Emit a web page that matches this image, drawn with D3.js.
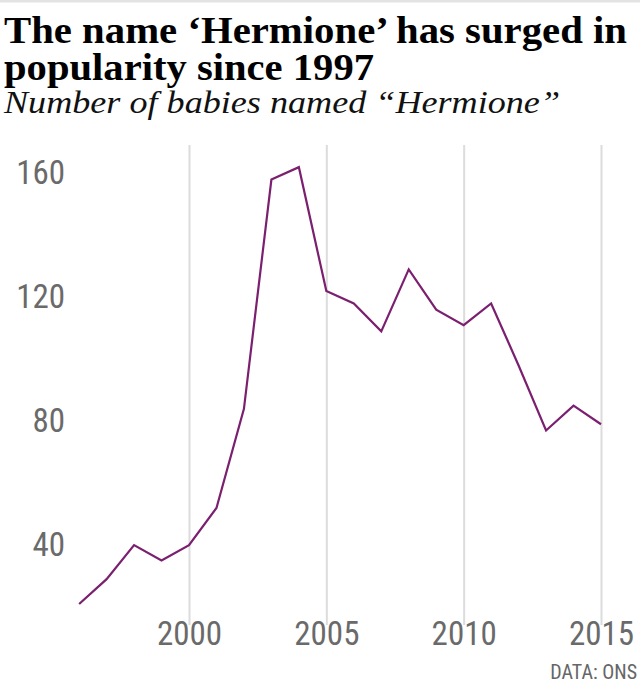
<!DOCTYPE html>
<html>
<head>
<meta charset="utf-8">
<script src="https://cdn.jsdelivr.net/npm/d3@7"></script>
<style>
  body { margin: 0; background: #fff; }
  svg { display: block; }
</style>
</head>
<body>
<div id="chart"></div>
<script>
// data
let years = [1996, 1997, 1998, 1999, 2000, 2001, 2002, 2003, 2004, 2005,
  2006, 2007, 2008, 2009, 2010, 2011, 2012, 2013, 2014, 2015]
let babies = [21, 29, 40, 35, 40, 52, 84, 158, 162, 122,
  118, 109, 129, 116, 111, 118, 98, 77, 85, 79]
let xTicks = [2000, 2005, 2010, 2015]
let yTicks = [40, 80, 120, 160]

let width = 640
let height = 683

let serif = "'Liberation Serif', 'Times New Roman', serif"
let sans = "'Roboto Condensed', 'DejaVu Sans Condensed', sans-serif"

let svg = d3.select('#chart')
  .append('svg')
  .attr('width', width)
  .attr('height', height)

// thin rule at the very top
svg.append('rect')
  .attr('x', 0)
  .attr('y', 0)
  .attr('width', width)
  .attr('height', 2.5)
  .attr('fill', '#e3e3e3')

// Scales
let xPositionScale = d3.scaleLinear()
  .domain([2000, 2015])
  .range([189, 601])
let yPositionScale = d3.scaleLinear()
  .domain([0, 170])
  .range([669, 142.4])

// titles, squeezed to the widths in the picture
function fitText(sel, w) {
  sel.attr('textLength', w).attr('lengthAdjust', 'spacingAndGlyphs')
}
svg.append('text')
  .text('The name \u2018Hermione\u2019 has surged in')
  .attr('x', 4)
  .attr('y', 42.5)
  .attr('font-family', serif)
  .attr('font-weight', 'bold')
  .attr('font-size', 38)
  .attr('fill', '#000')
  .call(fitText, 623)
svg.append('text')
  .text('popularity since 1997')
  .attr('x', 4)
  .attr('y', 79.5)
  .attr('font-family', serif)
  .attr('font-weight', 'bold')
  .attr('font-size', 38)
  .attr('fill', '#000')
  .call(fitText, 370)
svg.append('text')
  .text('Number of babies named \u201cHermione\u201d')
  .attr('x', 4)
  .attr('y', 113)
  .attr('font-family', serif)
  .attr('font-style', 'italic')
  .attr('font-size', 31)
  .attr('fill', '#111')
  .call(fitText, 556)

// x axis with vertical gridlines
let xAxis = d3.axisBottom(xPositionScale)
  .tickValues(xTicks)
  .tickFormat(d3.format('d'))
  .tickSize(-(625 - 145))
  .tickPadding(0)
svg.append('g')
  .attr('class', 'axis x-axis')
  .attr('transform', 'translate(0,625)')
  .call(xAxis)
  .call(g => g.select('.domain').remove())
  .call(g => g.selectAll('line').attr('stroke', '#dcdcdc').attr('stroke-width', 2))
  .call(g => g.selectAll('text')
    .attr('y', 20)
    .attr('dy', 0)
    .attr('font-family', sans)
    .attr('font-size', 33)
    .attr('fill', '#6a6a6a'))

// y axis labels only
let yAxis = d3.axisLeft(yPositionScale)
  .tickValues(yTicks)
  .tickSize(0)
  .tickPadding(0)
svg.append('g')
  .attr('class', 'axis y-axis')
  .attr('transform', 'translate(65,0)')
  .call(yAxis)
  .call(g => g.select('.domain').remove())
  .call(g => g.selectAll('text')
    .attr('font-family', sans)
    .attr('font-size', 33)
    .attr('fill', '#6a6a6a'))

// the line
let line = d3.line()
  .x((d, i) => xPositionScale(years[i]))
  .y(d => yPositionScale(d))

svg.append('path')
  .datum(babies)
  .attr('d', line)
  .attr('fill', 'none')
  .attr('stroke', '#7b1f6f')
  .attr('stroke-width', 2.2)
  .attr('stroke-linejoin', 'miter')

// source
svg.append('text')
  .text('DATA: ONS')
  .attr('x', 637)
  .attr('y', 679)
  .attr('text-anchor', 'end')
  .attr('font-family', sans)
  .attr('font-size', 20)
  .attr('fill', '#666')
</script>
</body>
</html>
